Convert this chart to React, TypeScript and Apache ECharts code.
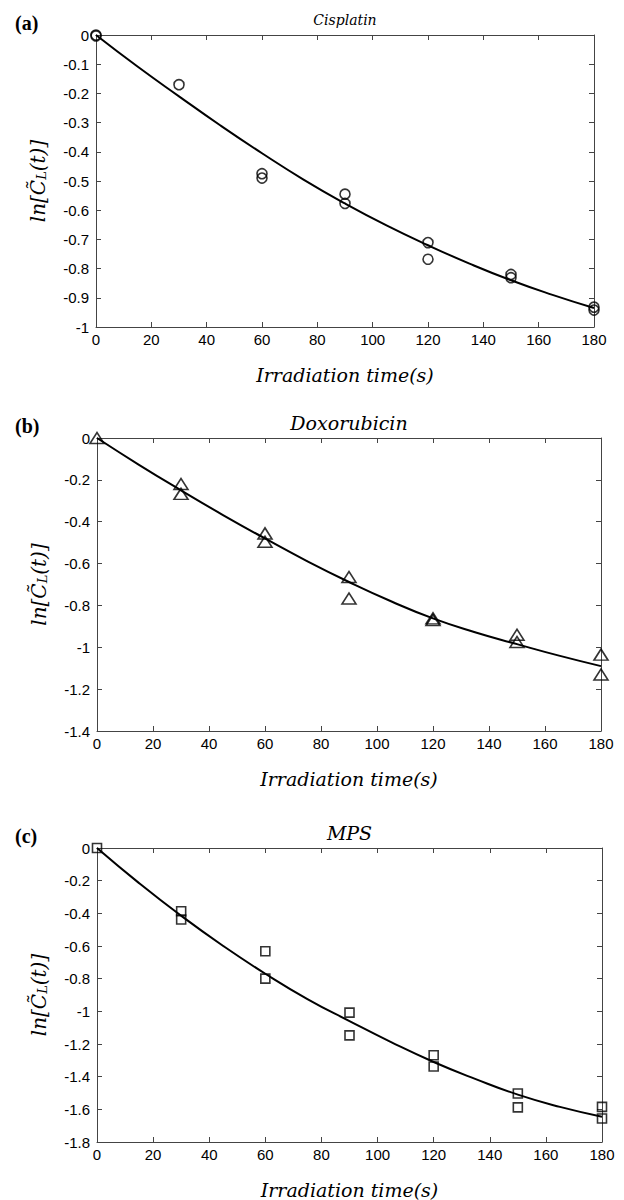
import React, { useEffect, useRef } from "react";
import * as echarts from "echarts";

const timeTicksMax = 180;
const fitTimes = [0, 15, 30, 45, 60, 75, 90, 105, 120, 135, 150, 165, 180];

const panelTitles = ["Cisplatin", "Doxorubicin", "MPS"];
const panelLetters = ["(a)", "(b)", "(c)"];
const yMins = [-1, -1.4, -1.8];
const yIntervals = [0.1, 0.2, 0.2];

const cisplatinPoints = [
  [0, 0], [0, -0.003], [30, -0.17], [60, -0.475], [60, -0.49], [90, -0.545], [90, -0.577],
  [120, -0.711], [120, -0.768], [150, -0.82], [150, -0.831], [180, -0.932], [180, -0.942],
];
const cisplatinFit = [0, -0.108, -0.21, -0.31, -0.405, -0.495, -0.577, -0.652, -0.72, -0.783, -0.84, -0.89, -0.935];

const doxorubicinPoints = [
  [0, 0], [30, -0.22], [30, -0.267], [60, -0.456], [60, -0.496], [90, -0.664], [90, -0.767],
  [120, -0.862], [120, -0.87], [150, -0.94], [150, -0.975], [180, -1.035], [180, -1.13],
];
const doxorubicinFit = [0, -0.128, -0.25, -0.368, -0.48, -0.588, -0.688, -0.78, -0.862, -0.928, -0.985, -1.04, -1.09];

const mpsPoints = [
  [0, 0], [30, -0.387], [30, -0.438], [60, -0.632], [60, -0.8], [90, -1.008], [90, -1.147],
  [120, -1.269], [120, -1.338], [150, -1.503], [150, -1.588], [180, -1.585], [180, -1.656],
];
const mpsFit = [0, -0.215, -0.415, -0.6, -0.77, -0.925, -1.06, -1.19, -1.31, -1.415, -1.51, -1.585, -1.645];

const allPoints = [cisplatinPoints, doxorubicinPoints, mpsPoints];
const allFits = [cisplatinFit, doxorubicinFit, mpsFit];
const symbols = ["circle", "triangle", "rect"];
const symbolSizes: any[] = [10, [14, 11], 9];

const grids = [
  { left: 96, top: 35, width: 498, height: 292 },
  { left: 97, top: 438, width: 504, height: 293 },
  { left: 97, top: 848, width: 505, height: 295 },
];
const titleSizes = [14, 19, 19];

const AXIS_COLOR = "#444";
const MATH_FONT = "'DejaVu Serif', 'Liberation Serif', serif";
const LETTER_FONT = "'Liberation Serif', serif";
const TICK_FONT = "'Liberation Sans', Arial, sans-serif";

export default function App() {
  const ref = useRef<HTMLDivElement>(null);
  useEffect(() => {
    document.body.style.margin = "0";
    const chart = echarts.init(ref.current!, null, { renderer: "svg" });
    const xAxes: any[] = [];
    const yAxes: any[] = [];
    const series: any[] = [];
    const graphics: any[] = [];
    grids.forEach((g, i) => {
      const baseX = {
        type: "value",
        gridIndex: i,
        min: 0,
        max: timeTicksMax,
        interval: 20,
        splitLine: { show: false },
        axisLine: { show: true, onZero: false, lineStyle: { color: AXIS_COLOR, width: 1 } },
        axisTick: { show: true, inside: true, length: 5, lineStyle: { color: AXIS_COLOR } },
      };
      xAxes.push({
        ...baseX,
        position: "bottom",
        axisLabel: { color: "#000", fontFamily: TICK_FONT, fontSize: 15, margin: 5 },
        name: "Irradiation time(s)",
        nameLocation: "middle",
        nameGap: 38,
        nameTextStyle: { fontFamily: MATH_FONT, fontStyle: "italic", fontSize: 19, color: "#000" },
      });
      xAxes.push({ ...baseX, position: "top", axisLabel: { show: false } });
      const baseY = {
        type: "value",
        gridIndex: i,
        min: yMins[i],
        max: 0,
        interval: yIntervals[i],
        splitLine: { show: false },
        axisLine: { show: true, onZero: false, lineStyle: { color: AXIS_COLOR, width: 1 } },
        axisTick: { show: true, inside: true, length: 5, lineStyle: { color: AXIS_COLOR } },
      };
      yAxes.push({
        ...baseY,
        position: "left",
        axisLabel: { color: "#000", fontFamily: TICK_FONT, fontSize: 15, margin: 7 },
        name: "{i|ln[}{i|C\u0303}{s|L}{i|(t)]}",
        nameLocation: "middle",
        nameGap: 48,
        nameRotate: 90,
        nameTextStyle: {
          rich: {
            i: { fontFamily: MATH_FONT, fontStyle: "italic", fontSize: 20, color: "#000" },
            s: { fontFamily: MATH_FONT, fontStyle: "italic", fontSize: 13, color: "#000", padding: [8, 0, 0, 0] },
          },
        },
      });
      yAxes.push({ ...baseY, position: "right", axisLabel: { show: false } });
      series.push({
        type: "line",
        xAxisIndex: i * 2,
        yAxisIndex: i * 2,
        data: fitTimes.map((t, k) => [t, allFits[i][k]]),
        smooth: true,
        showSymbol: false,
        symbol: "none",
        lineStyle: { color: "#000", width: 2 },
        z: 2,
      });
      series.push({
        type: "scatter",
        xAxisIndex: i * 2,
        yAxisIndex: i * 2,
        data: allPoints[i],
        symbol: symbols[i],
        symbolSize: symbolSizes[i],
        clip: false,
        itemStyle: { color: "rgba(255,255,255,0)", borderColor: "#000", borderWidth: 1.6 },
        z: 3,
      });
      graphics.push({
        type: "text",
        left: 15,
        top: g.top - 22,
        style: { text: panelLetters[i], font: `bold 20px ${LETTER_FONT}`, fill: "#000" },
      });
      graphics.push({
        type: "text",
        x: g.left + g.width / 2,
        y: g.top - 15,
        style: {
          text: panelTitles[i],
          font: `italic ${titleSizes[i]}px ${MATH_FONT}`,
          fill: "#000",
          align: "center",
          verticalAlign: "middle",
        },
      });
    });
    chart.setOption({
      animation: false,
      backgroundColor: "#fff",
      grid: grids.map((g) => ({ ...g, containLabel: false })),
      xAxis: xAxes,
      yAxis: yAxes,
      series,
      graphic: graphics,
    });
    return () => chart.dispose();
  }, []);
  return (
    <div
      ref={ref}
      style={{ position: "absolute", left: 0, top: 0, width: 624, height: 1200 }}
    />
  );
}
